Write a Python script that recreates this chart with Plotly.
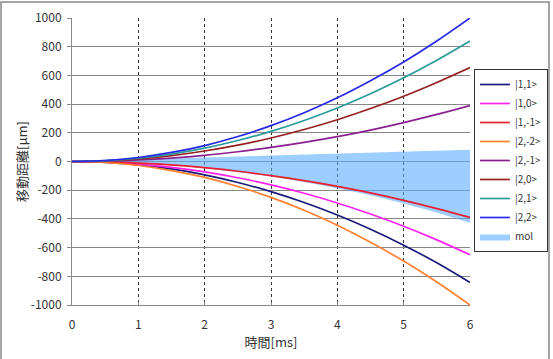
import plotly.graph_objects as go

# time [ms]
t = [0, 0.5, 1, 1.5, 2, 2.5, 3, 3.5, 4, 4.5, 5, 5.5, 6]

# displacement [μm] per state
s_1_1 = [0, -6, -23, -52, -93, -146, -210, -286, -373, -472, -583, -706, -843]
s_1_0 = [0, -5, -18, -41, -72, -113, -163, -221, -289, -366, -451, -546, -650]
s_1_m1 = [0, -3, -11, -24, -43, -68, -98, -133, -173, -219, -271, -328, -390]
s_2_m2 = [0, -7, -28, -63, -111, -174, -250, -340, -444, -563, -694, -840, -1000]
s_2_m1 = [0, 3, 11, 24, 43, 68, 98, 133, 173, 219, 271, 328, 390]
s_2_0 = [0, 5, 18, 41, 73, 114, 164, 223, 291, 369, 455, 551, 655]
s_2_1 = [0, 6, 23, 52, 93, 146, 210, 286, 373, 472, 583, 706, 840]
s_2_2 = [0, 7, 28, 63, 111, 174, 250, 340, 444, 563, 694, 840, 1000]

mol_upper = [0, 7, 14, 20, 27, 34, 41, 47, 54, 61, 68, 74, 82]
mol_lower = [0, -3, -12, -27, -47, -74, -104, -142, -186, -236, -292, -356, -428]

names = ["|1,1>", "|1,0>", "|1,-1>", "|2,-2>", "|2,-1>", "|2,0>", "|2,1>", "|2,2>"]
series = [s_1_1, s_1_0, s_1_m1, s_2_m2, s_2_m1, s_2_0, s_2_1, s_2_2]
colors = ["#1a1a7a", "#ff22ee", "#e82030", "#ff8030", "#8a2090", "#962020", "#2a9a9a", "#2828e8"]

x_ticks = [0, 1, 2, 3, 4, 5, 6]
y_ticks = [-1000, -800, -600, -400, -200, 0, 200, 400, 600, 800, 1000]

fig = go.Figure()

# mol band (drawn first, behind lines)
fig.add_trace(go.Scatter(
    x=t + t[::-1], y=mol_upper + mol_lower[::-1],
    fill="toself", fillcolor="rgba(85,170,255,0.58)",
    line=dict(width=0), mode="lines", name="mol", legendrank=2000,
    hoverinfo="skip",
))

for nm, ys, c in zip(names, series, colors):
    fig.add_trace(go.Scatter(x=t, y=ys, mode="lines", name=nm, legendrank=1000,
                             line=dict(color=c, width=1.7, shape="spline")))

font_jp = "Noto Sans CJK JP, Noto Sans, sans-serif"

fig.update_layout(
    width=553, height=359,
    margin=dict(l=72, r=83, t=18, b=54, autoexpand=False),
    paper_bgcolor="white", plot_bgcolor="white",
    font=dict(family=font_jp, size=12, color="#333333"),
    showlegend=True,
    legend=dict(
        x=(548 - 72) / 398, xanchor="right", y=(305 - 69) / 287, yanchor="top",
        bgcolor="white", bordercolor="#333333", borderwidth=1,
        font=dict(size=10, color="#333333"),
        traceorder="normal",
    ),
    xaxis=dict(
        range=[0, 6], tickvals=x_ticks, ticktext=[str(v) for v in x_ticks],
        showgrid=True, gridcolor="#333333", griddash="dot", gridwidth=1,
        zeroline=False, showline=True, linecolor="#888888", linewidth=1,
        ticks="inside", ticklen=3, tickcolor="#888888",
        ticklabelstandoff=9,
        title=dict(text="時間[ms]", font=dict(size=13, color="#333333"), standoff=4),
        fixedrange=True,
    ),
    yaxis=dict(
        range=[-1000, 1000], tickvals=y_ticks, ticktext=[str(v) for v in y_ticks],
        showgrid=True, gridcolor="#888888", gridwidth=1,
        zeroline=False, showline=True, linecolor="#888888", linewidth=1,
        ticks="outside", ticklen=4, tickcolor="#888888",
        ticklabelstandoff=3,
        title=dict(text="移動距離[μm]", font=dict(size=13, color="#333333"), standoff=0),
        fixedrange=True,
    ),
)

# outer chart frame
fig.add_shape(type="rect", xref="paper", yref="paper",
              x0=(1 - 72) / 398, x1=(549 - 72) / 398,
              y0=(305 - 365) / 287, y1=(305 - 2) / 287,
              line=dict(color="#888888", width=1.5), layer="below")

fig.write_html("out.html")
